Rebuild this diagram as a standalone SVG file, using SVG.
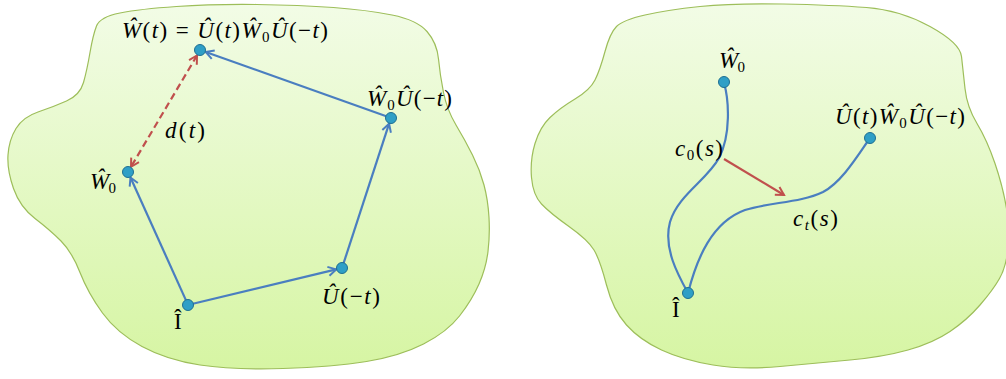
<svg xmlns="http://www.w3.org/2000/svg" width="1006" height="379" viewBox="0 0 1006 379">
<style>
.blob{fill:url(#g);stroke:#9dbe5a;stroke-width:1.2}
.lbl{font-family:"Liberation Serif","Times New Roman",serif;font-size:23px;fill:#000}
.i{font-style:italic}
.sub{font-size:15px}
.blue{fill:none;stroke:#4a7ec0;stroke-width:2.2}
.red{fill:none;stroke:#c0504d;stroke-width:2.2}
.dash{stroke-dasharray:7 4}
.node{fill:#2f9fc6;stroke:#1e6f92;stroke-width:1}
</style>
<defs>
<linearGradient id="g" x1="0" y1="0" x2="0" y2="1">
<stop offset="0" stop-color="#f2fce6"/>
<stop offset="1" stop-color="#d6f5a3"/>
</linearGradient>
<marker id="ab" viewBox="0 0 12 12" refX="10" refY="6" markerWidth="12" markerHeight="12" markerUnits="userSpaceOnUse" orient="auto-start-reverse">
<path d="M2,1.5 L10,6 L2,10.5" fill="none" stroke="#4a7ec0" stroke-width="2"/>
</marker>
<marker id="ar" viewBox="0 0 12 12" refX="10" refY="6" markerWidth="12" markerHeight="12" markerUnits="userSpaceOnUse" orient="auto-start-reverse">
<path d="M2,1.5 L10,6 L2,10.5" fill="none" stroke="#c0504d" stroke-width="2"/>
</marker>
</defs>

<g id="left-region">
<path class="blob" d="M96.5,26 Q100,17 120,13 Q140,9 176.5,6.5 Q213,4 256.5,4.5 Q300,5 333.5,7.5 Q367,10 392,15 Q417,20 427,31.5 Q437,43 438.5,59 Q440,75 443.5,92.5 Q447,110 456,125 Q465,140 472.5,155 Q480,170 484,185 Q488,200 489,217.5 Q490,235 488,251.5 Q486,268 479,284 Q472,300 459.5,316 Q447,332 423.5,344 Q400,356 366.5,361.5 Q333,367 283,368.5 Q233,370 200,365 Q167,360 142,346.5 Q117,333 102.5,313 Q88,293 80,272.5 Q72,252 61,241 Q50,230 35,218.5 Q20,207 13.5,188.5 Q7,170 8,155 Q9,140 16,128.5 Q23,117 38,112 Q53,107 66.5,101 Q80,95 83.5,82.5 Q87,70 90,52.5 Q93,35 96.5,26 Z"/>
</g>
<g id="right-region">
<path class="blob" d="M616.5,26.5 Q623,20 645,15 Q667,10 700,6.5 Q733,3 783,4 Q833,5 866.5,7.5 Q900,10 930,26.5 Q960,43 961.5,56.5 Q963,70 965,88.5 Q967,107 977,123.5 Q987,140 995,163.5 Q1003,187 1006.5,208.5 Q1010,230 1008,248.5 Q1006,267 999.5,278.5 Q993,290 980,305 Q967,320 950,331.5 Q933,343 908,350 Q883,357 850,360 Q817,363 780,366.5 Q743,370 713,365 Q683,360 661.5,350 Q640,340 626.5,325 Q613,310 606.5,285 Q600,260 594,250 Q588,240 569,226.5 Q550,213 541.5,204 Q533,195 531.5,177.5 Q530,160 535,143.5 Q540,127 550,117.5 Q560,108 575,99 Q590,90 595,80 Q600,70 605,51.5 Q610,33 616.5,26.5 Z"/>
</g>

<g id="connectors">
<line class="blue" x1="186" y1="300.4" x2="130.5" y2="177.5" marker-end="url(#ab)"/>
<line class="blue" x1="192.9" y1="303.8" x2="336.2" y2="269.4" marker-end="url(#ab)"/>
<line class="blue" x1="343.6" y1="263.2" x2="389.1" y2="123.7" marker-end="url(#ab)"/>
<line class="blue" x1="386.3" y1="116.3" x2="205.7" y2="52" marker-end="url(#ab)"/>
<line class="red dash" x1="197" y1="55.5" x2="131" y2="166.8" marker-start="url(#ar)" marker-end="url(#ar)"/>
<path class="blue" d="M724,83 C729,100 731,135 719,158 C707,180 678,195 670,222 C663,248 678,275 688,293"/>
<path class="blue" d="M688,293 C697,258 712,222 745,210 C770,202 800,203 823,192 C842,182 858,155 870,138"/>
<line class="red" x1="724" y1="159" x2="784" y2="195" marker-end="url(#ar)"/>
</g>

<g id="node-W">
<circle class="node" cx="200" cy="50" r="5.5"/>
<text class="lbl" x="122" y="38" textLength="206" lengthAdjust="spacing"><tspan class="i">Ŵ</tspan>(<tspan class="i">t</tspan>) = <tspan class="i">Û</tspan>(<tspan class="i">t</tspan>)<tspan class="i">Ŵ</tspan><tspan class="sub" dy="4">0</tspan><tspan class="i" dy="-4">Û</tspan>(−<tspan class="i">t</tspan>)</text>
</g>
<g id="node-W0U">
<circle class="node" cx="391" cy="118" r="5.5"/>
<text class="lbl" x="367" y="106" textLength="85" lengthAdjust="spacing"><tspan class="i">Ŵ</tspan><tspan class="sub" dy="4">0</tspan><tspan class="i" dy="-4">Û</tspan>(−<tspan class="i">t</tspan>)</text>
</g>
<g id="node-U">
<circle class="node" cx="342" cy="268" r="5.5"/>
<text class="lbl" x="322" y="304" textLength="58" lengthAdjust="spacing"><tspan class="i">Û</tspan>(−<tspan class="i">t</tspan>)</text>
</g>
<g id="node-I-left">
<circle class="node" cx="188" cy="305" r="5.5"/>
<text class="lbl" x="174" y="329">Î</text>
</g>
<g id="node-W0-left">
<circle class="node" cx="128" cy="172" r="5.5"/>
<text class="lbl" x="90" y="189" textLength="26" lengthAdjust="spacing"><tspan class="i">Ŵ</tspan><tspan class="sub" dy="4">0</tspan></text>
</g>
<g id="label-d">
<text class="lbl" x="165" y="138" textLength="40" lengthAdjust="spacing"><tspan class="i">d</tspan>(<tspan class="i">t</tspan>)</text>
</g>

<g id="node-W0-right">
<circle class="node" cx="724" cy="82" r="5.5"/>
<text class="lbl" x="719" y="68" textLength="26" lengthAdjust="spacing"><tspan class="i">Ŵ</tspan><tspan class="sub" dy="4">0</tspan></text>
</g>
<g id="node-UWU-right">
<circle class="node" cx="870" cy="138" r="5.5"/>
<text class="lbl" x="835" y="124" textLength="130" lengthAdjust="spacing"><tspan class="i">Û</tspan>(<tspan class="i">t</tspan>)<tspan class="i">Ŵ</tspan><tspan class="sub" dy="4">0</tspan><tspan class="i" dy="-4">Û</tspan>(−<tspan class="i">t</tspan>)</text>
</g>
<g id="node-I-right">
<circle class="node" cx="688" cy="293" r="5.5"/>
<text class="lbl" x="672" y="317">Î</text>
</g>
<g id="label-c0">
<text class="lbl" x="675" y="156" textLength="48" lengthAdjust="spacing"><tspan class="i">c</tspan><tspan class="sub" dy="4">0</tspan><tspan dy="-4">(</tspan><tspan class="i">s</tspan>)</text>
</g>
<g id="label-ct">
<text class="lbl" x="793" y="226" textLength="45" lengthAdjust="spacing"><tspan class="i">c</tspan><tspan class="sub i" dy="4">t</tspan><tspan dy="-4">(</tspan><tspan class="i">s</tspan>)</text>
</g>
</svg>
